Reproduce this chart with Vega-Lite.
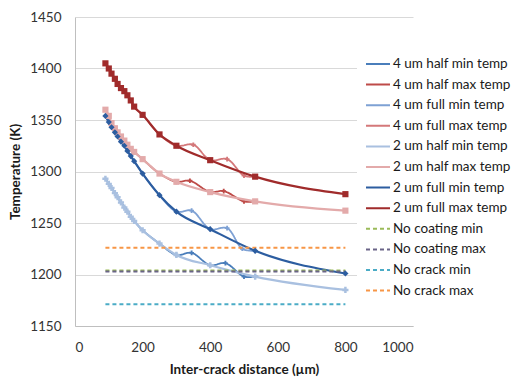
{
  "$schema": "https://vega.github.io/schema/vega-lite/v6.json",
  "width": 338,
  "height": 309,
  "autosize": "none",
  "padding": {"left": 75, "top": 17, "right": 103, "bottom": 53},
  "background": "white",
  "config": {
    "font": "Lato",
    "view": {"stroke": null},
    "axis": {"labelFont": "Lato", "titleFont": "Lato", "labelFontSize": 13.5, "titleFontSize": 13.5, "labelColor": "#333333", "titleColor": "#1a1a1a", "titleFontWeight": "bold", "domainColor": "#BFBFBF", "gridColor": "#D9D9D9", "tickSize": 0, "labelPadding": 14}
  },
  "datasets": {
    "d": [
      {"s": "4 um half min temp", "x": 90, "y": 1293}, {"s": "4 um half min temp", "x": 100, "y": 1288}, {"s": "4 um half min temp", "x": 108, "y": 1284}, {"s": "4 um half min temp", "x": 118, "y": 1279}, {"s": "4 um half min temp", "x": 126, "y": 1275}, {"s": "4 um half min temp", "x": 136, "y": 1270}, {"s": "4 um half min temp", "x": 146, "y": 1266}, {"s": "4 um half min temp", "x": 155, "y": 1262}, {"s": "4 um half min temp", "x": 165, "y": 1256}, {"s": "4 um half min temp", "x": 175, "y": 1252}, {"s": "4 um half min temp", "x": 200, "y": 1243}, {"s": "4 um half min temp", "x": 250, "y": 1230}, {"s": "4 um half min temp", "x": 300, "y": 1219}, {"s": "4 um half min temp", "x": 345, "y": 1221}, {"s": "4 um half min temp", "x": 400, "y": 1209}, {"s": "4 um half min temp", "x": 445, "y": 1211}, {"s": "4 um half min temp", "x": 500, "y": 1198}, {"s": "4 um half min temp", "x": 533, "y": 1198},
      {"s": "4 um half max temp", "x": 90, "y": 1360}, {"s": "4 um half max temp", "x": 100, "y": 1354}, {"s": "4 um half max temp", "x": 108, "y": 1347}, {"s": "4 um half max temp", "x": 118, "y": 1342}, {"s": "4 um half max temp", "x": 126, "y": 1338}, {"s": "4 um half max temp", "x": 136, "y": 1334}, {"s": "4 um half max temp", "x": 146, "y": 1330}, {"s": "4 um half max temp", "x": 155, "y": 1326}, {"s": "4 um half max temp", "x": 165, "y": 1322}, {"s": "4 um half max temp", "x": 175, "y": 1319}, {"s": "4 um half max temp", "x": 200, "y": 1312}, {"s": "4 um half max temp", "x": 250, "y": 1298}, {"s": "4 um half max temp", "x": 300, "y": 1290}, {"s": "4 um half max temp", "x": 340, "y": 1291}, {"s": "4 um half max temp", "x": 400, "y": 1280}, {"s": "4 um half max temp", "x": 440, "y": 1281}, {"s": "4 um half max temp", "x": 500, "y": 1271}, {"s": "4 um half max temp", "x": 533, "y": 1271},
      {"s": "4 um full min temp", "x": 90, "y": 1354}, {"s": "4 um full min temp", "x": 100, "y": 1348}, {"s": "4 um full min temp", "x": 108, "y": 1343}, {"s": "4 um full min temp", "x": 118, "y": 1338}, {"s": "4 um full min temp", "x": 126, "y": 1334}, {"s": "4 um full min temp", "x": 136, "y": 1329}, {"s": "4 um full min temp", "x": 146, "y": 1325}, {"s": "4 um full min temp", "x": 155, "y": 1320}, {"s": "4 um full min temp", "x": 165, "y": 1315}, {"s": "4 um full min temp", "x": 175, "y": 1310}, {"s": "4 um full min temp", "x": 200, "y": 1298}, {"s": "4 um full min temp", "x": 250, "y": 1277}, {"s": "4 um full min temp", "x": 300, "y": 1261}, {"s": "4 um full min temp", "x": 345, "y": 1262}, {"s": "4 um full min temp", "x": 400, "y": 1244}, {"s": "4 um full min temp", "x": 450, "y": 1245}, {"s": "4 um full min temp", "x": 495, "y": 1225}, {"s": "4 um full min temp", "x": 533, "y": 1223},
      {"s": "4 um full max temp", "x": 90, "y": 1405}, {"s": "4 um full max temp", "x": 100, "y": 1400}, {"s": "4 um full max temp", "x": 108, "y": 1395}, {"s": "4 um full max temp", "x": 118, "y": 1390}, {"s": "4 um full max temp", "x": 126, "y": 1385}, {"s": "4 um full max temp", "x": 136, "y": 1381}, {"s": "4 um full max temp", "x": 146, "y": 1378}, {"s": "4 um full max temp", "x": 155, "y": 1374}, {"s": "4 um full max temp", "x": 165, "y": 1369}, {"s": "4 um full max temp", "x": 175, "y": 1363}, {"s": "4 um full max temp", "x": 200, "y": 1355}, {"s": "4 um full max temp", "x": 250, "y": 1336}, {"s": "4 um full max temp", "x": 300, "y": 1325}, {"s": "4 um full max temp", "x": 350, "y": 1326}, {"s": "4 um full max temp", "x": 400, "y": 1311}, {"s": "4 um full max temp", "x": 450, "y": 1312}, {"s": "4 um full max temp", "x": 500, "y": 1296}, {"s": "4 um full max temp", "x": 533, "y": 1295},
      {"s": "2 um half min temp", "x": 90, "y": 1293}, {"s": "2 um half min temp", "x": 100, "y": 1288}, {"s": "2 um half min temp", "x": 108, "y": 1284}, {"s": "2 um half min temp", "x": 118, "y": 1279}, {"s": "2 um half min temp", "x": 126, "y": 1275}, {"s": "2 um half min temp", "x": 136, "y": 1270}, {"s": "2 um half min temp", "x": 146, "y": 1265}, {"s": "2 um half min temp", "x": 155, "y": 1261}, {"s": "2 um half min temp", "x": 165, "y": 1256}, {"s": "2 um half min temp", "x": 175, "y": 1252}, {"s": "2 um half min temp", "x": 200, "y": 1243}, {"s": "2 um half min temp", "x": 250, "y": 1230}, {"s": "2 um half min temp", "x": 300, "y": 1219}, {"s": "2 um half min temp", "x": 400, "y": 1209}, {"s": "2 um half min temp", "x": 533, "y": 1198}, {"s": "2 um half min temp", "x": 800, "y": 1185},
      {"s": "2 um half max temp", "x": 90, "y": 1360}, {"s": "2 um half max temp", "x": 100, "y": 1354}, {"s": "2 um half max temp", "x": 108, "y": 1347}, {"s": "2 um half max temp", "x": 118, "y": 1342}, {"s": "2 um half max temp", "x": 126, "y": 1338}, {"s": "2 um half max temp", "x": 136, "y": 1334}, {"s": "2 um half max temp", "x": 146, "y": 1330}, {"s": "2 um half max temp", "x": 155, "y": 1326}, {"s": "2 um half max temp", "x": 165, "y": 1322}, {"s": "2 um half max temp", "x": 175, "y": 1319}, {"s": "2 um half max temp", "x": 200, "y": 1312}, {"s": "2 um half max temp", "x": 250, "y": 1298}, {"s": "2 um half max temp", "x": 300, "y": 1290}, {"s": "2 um half max temp", "x": 400, "y": 1280}, {"s": "2 um half max temp", "x": 533, "y": 1271}, {"s": "2 um half max temp", "x": 800, "y": 1262},
      {"s": "2 um full min temp", "x": 90, "y": 1354}, {"s": "2 um full min temp", "x": 100, "y": 1348}, {"s": "2 um full min temp", "x": 108, "y": 1343}, {"s": "2 um full min temp", "x": 118, "y": 1338}, {"s": "2 um full min temp", "x": 126, "y": 1334}, {"s": "2 um full min temp", "x": 136, "y": 1329}, {"s": "2 um full min temp", "x": 146, "y": 1325}, {"s": "2 um full min temp", "x": 155, "y": 1320}, {"s": "2 um full min temp", "x": 165, "y": 1315}, {"s": "2 um full min temp", "x": 175, "y": 1310}, {"s": "2 um full min temp", "x": 200, "y": 1298}, {"s": "2 um full min temp", "x": 250, "y": 1277}, {"s": "2 um full min temp", "x": 300, "y": 1261}, {"s": "2 um full min temp", "x": 400, "y": 1244}, {"s": "2 um full min temp", "x": 533, "y": 1223}, {"s": "2 um full min temp", "x": 800, "y": 1201},
      {"s": "2 um full max temp", "x": 90, "y": 1405}, {"s": "2 um full max temp", "x": 100, "y": 1400}, {"s": "2 um full max temp", "x": 108, "y": 1395}, {"s": "2 um full max temp", "x": 118, "y": 1390}, {"s": "2 um full max temp", "x": 126, "y": 1385}, {"s": "2 um full max temp", "x": 136, "y": 1381}, {"s": "2 um full max temp", "x": 146, "y": 1378}, {"s": "2 um full max temp", "x": 155, "y": 1374}, {"s": "2 um full max temp", "x": 165, "y": 1369}, {"s": "2 um full max temp", "x": 175, "y": 1363}, {"s": "2 um full max temp", "x": 200, "y": 1355}, {"s": "2 um full max temp", "x": 250, "y": 1336}, {"s": "2 um full max temp", "x": 300, "y": 1325}, {"s": "2 um full max temp", "x": 400, "y": 1311}, {"s": "2 um full max temp", "x": 533, "y": 1295}, {"s": "2 um full max temp", "x": 800, "y": 1278},
      {"s": "No coating min", "x": 90, "y": 1204}, {"s": "No coating min", "x": 800, "y": 1204},
      {"s": "No coating max", "x": 90, "y": 1203}, {"s": "No coating max", "x": 800, "y": 1203},
      {"s": "No crack min", "x": 90, "y": 1171}, {"s": "No crack min", "x": 800, "y": 1171},
      {"s": "No crack max", "x": 90, "y": 1226}, {"s": "No crack max", "x": 800, "y": 1226}
    ]
  },
  "data": {"name": "d"},
  "encoding": {
    "x": {"field": "x", "type": "quantitative", "scale": {"domain": [0, 1000]}, "axis": {"values": [0, 200, 400, 600, 800, 1000], "format": "d", "grid": false, "title": "Inter-crack distance (µm)", "titlePadding": 9}},
    "y": {"field": "y", "type": "quantitative", "scale": {"domain": [1150, 1450]}, "axis": {"values": [1150, 1200, 1250, 1300, 1350, 1400, 1450], "format": "d", "grid": true, "title": "Temperature (K)", "titlePadding": 7}}
  },
  "resolve": {"scale": {"color": "shared"}},
  "layer": [
    {
      "transform": [{"filter": {"field": "s", "oneOf": ["4 um half min temp", "4 um half max temp", "4 um full min temp", "4 um full max temp"]}}],
      "mark": {"type": "line", "interpolate": "catmull-rom", "strokeWidth": 1.8},
      "encoding": {
        "color": {"field": "s", "type": "nominal", "scale": {"domain": ["4 um half min temp", "4 um half max temp", "4 um full min temp", "4 um full max temp", "2 um half min temp", "2 um half max temp", "2 um full min temp", "2 um full max temp", "No coating min", "No coating max", "No crack min", "No crack max"], "range": ["#4A7EBB", "#BE4B48", "#7EA1D4", "#D4787A", "#A9C0E0", "#E3AAAA", "#2C5DA0", "#A02B2B", "#9BBB59", "#6A6487", "#4BACC6", "#F79646"]},
          "legend": {"orient": "none", "legendX": 282, "legendY": 26, "title": null, "symbolType": "stroke", "symbolSize": 576, "symbolStrokeWidth": 2, "labelFont": "Lato", "labelFontSize": 13.5, "labelColor": "#1a1a1a", "labelOffset": 2, "rowPadding": 0.6, "padding": 8, "fillColor": "white", "labelLimit": 200}},
        "strokeDash": {"field": "s", "type": "nominal", "scale": {"domain": ["4 um half min temp", "4 um half max temp", "4 um full min temp", "4 um full max temp", "2 um half min temp", "2 um half max temp", "2 um full min temp", "2 um full max temp", "No coating min", "No coating max", "No crack min", "No crack max"], "range": [[1, 0], [1, 0], [1, 0], [1, 0], [1, 0], [1, 0], [1, 0], [1, 0], [4, 3], [4, 3], [4, 3], [4, 3]]}, "legend": {"orient": "none", "legendX": 282, "legendY": 26, "title": null}}
      }
    },
    {
      "transform": [{"filter": {"field": "s", "oneOf": ["4 um half min temp", "4 um half max temp", "4 um full min temp", "4 um full max temp"]}}, {"filter": "datum.x >= 300"}],
      "mark": {"type": "point", "shape": "cross", "filled": true, "size": 22, "opacity": 1},
      "encoding": {"color": {"field": "s", "type": "nominal", "legend": null}}
    },
    {
      "transform": [{"filter": {"field": "s", "oneOf": ["2 um half min temp", "2 um half max temp", "2 um full min temp", "2 um full max temp"]}}],
      "mark": {"type": "line", "interpolate": "monotone", "strokeWidth": 2.2},
      "encoding": {"color": {"field": "s", "type": "nominal", "legend": null}}
    },
    {
      "transform": [{"filter": {"field": "s", "oneOf": ["No coating min", "No coating max", "No crack min", "No crack max"]}}],
      "mark": {"type": "line", "strokeWidth": 2, "strokeDash": [4, 3]},
      "encoding": {"color": {"field": "s", "type": "nominal", "legend": null}}
    },
    {
      "transform": [{"filter": {"field": "s", "oneOf": ["2 um half min temp", "2 um half max temp", "2 um full min temp", "2 um full max temp"]}}],
      "mark": {"type": "point", "filled": true, "size": 38, "opacity": 1},
      "encoding": {
        "color": {"field": "s", "type": "nominal", "legend": null},
        "shape": {"field": "s", "type": "nominal", "scale": {"domain": ["2 um half min temp", "2 um half max temp", "2 um full min temp", "2 um full max temp"], "range": ["cross", "square", "diamond", "square"]}, "legend": null}
      }
    }
  ]
}
